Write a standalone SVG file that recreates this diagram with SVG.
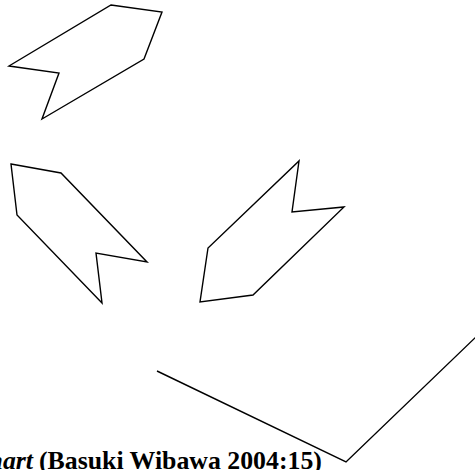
<svg xmlns="http://www.w3.org/2000/svg" width="475" height="470" viewBox="0 0 475 470">
<style>
.s{fill:none;stroke:#000;stroke-width:1.4;stroke-linejoin:miter}
.t{font-family:"Liberation Serif","Times New Roman",serif;font-weight:bold;font-size:25.8px;fill:#000}
</style>
<rect width="475" height="470" fill="#fff"/>
<g id="shape1"><polygon class="s" points="111,5 162,12 144,59 42,119 59,73 9,66"/></g>
<g id="shape2"><polygon class="s" points="11,164 61,173 147,262 96,253 102,303 17,215"/></g>
<g id="shape3"><polygon class="s" points="299,161 292,212 344,207 253,295 200,302 208,248"/></g>
<g id="connectors"><polyline class="s" points="157,371 346,462 478,335"/></g>
<text class="t" x="33" y="469" text-anchor="end" font-style="italic">Flowchart</text>
<text class="t" x="39" y="469">(Basuki Wibawa 2004:15)</text>
</svg>
